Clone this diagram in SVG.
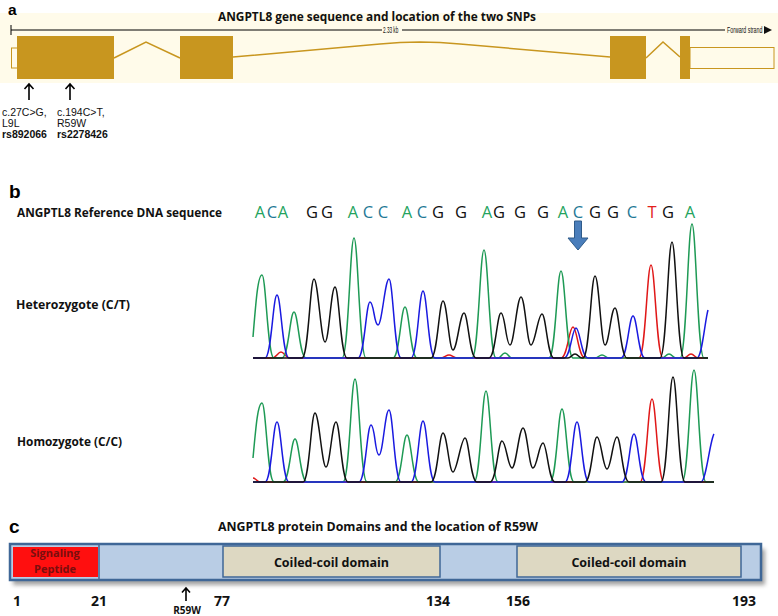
<svg xmlns="http://www.w3.org/2000/svg" width="778" height="616" viewBox="0 0 778 616">
<style>
.lbl{font-family:"Liberation Sans",Arial,sans-serif;font-weight:bold;fill:#000}
.t{font-family:"Open Sans","Liberation Sans",sans-serif;font-weight:bold;fill:#111}
.snp{font-family:"Liberation Sans",Arial,sans-serif;font-size:10.5px;fill:#111}
.seq{font-family:"Open Sans","Liberation Sans",sans-serif;font-size:16.5px;text-anchor:middle}
.A{fill:#25a35e}.C{fill:#1f7896}.G{fill:#111}.T{fill:#e3201c}
.exon{fill:#c8961f}
.intron{fill:none;stroke:#c8961f;stroke-width:1.5}
.tr{fill:none;stroke-width:1.5;stroke-linejoin:round}
.gr{stroke:#1e9a55}.bl{stroke:#1a1ae0}.bk{stroke:#111}.rd{stroke:#e01818}
.num{font-family:"Open Sans","Liberation Sans",sans-serif;font-weight:bold;font-size:14px;fill:#111}
.cc{fill:#ddd8c2;stroke:#3f6797;stroke-width:1.5}
.arr{fill:none;stroke:#000;stroke-width:1.6}
.sp{font-family:"Open Sans","Liberation Sans",sans-serif;font-weight:bold;font-size:11px;fill:#7a0e0e;text-anchor:middle}
</style>
<defs>
<filter id="sh" x="-5%" y="-30%" width="110%" height="160%"><feGaussianBlur stdDeviation="2"/></filter>
</defs>
<rect width="778" height="616" fill="#fff"/>

<!-- Panel a -->
<g id="panel-a">
<rect x="0" y="13" width="778" height="70" fill="#fffbea"/>
<text class="lbl" x="8" y="15" font-size="15.5">a</text>
<text class="t" x="218" y="21" font-size="13" textLength="318" lengthAdjust="spacingAndGlyphs">ANGPTL8 gene sequence and location of the two SNPs</text>
<line x1="11" y1="30" x2="382" y2="30" stroke="#000" stroke-width="1"/>
<line x1="402" y1="30" x2="725" y2="30" stroke="#000" stroke-width="1"/>
<line x1="11" y1="25" x2="11" y2="35" stroke="#000" stroke-width="1"/>
<text transform="translate(383,33) scale(0.55,1)" font-family="Liberation Sans,sans-serif" font-size="8.5" fill="#111">2.33 kb</text>
<text transform="translate(727,33) scale(0.62,1)" font-family="Liberation Sans,sans-serif" font-size="8.5" fill="#111">Forward strand</text>
<path d="M764,26 L772,30 L764,34 Z" fill="#111"/>
<g id="gene">
<rect x="11.5" y="48" width="6" height="20" fill="none" stroke="#c8961f" stroke-width="1"/>
<rect class="exon" x="17" y="36" width="97" height="43"/>
<polyline class="intron" points="114,58 146,42 180,58"/>
<rect class="exon" x="180" y="36" width="53" height="43"/>
<polyline class="intron" points="233,57 380,44 400,42.5 420,42 440,42.5 460,44 610,57"/>
<rect class="exon" x="610" y="36" width="36" height="43"/>
<polyline class="intron" points="646,58 663,42 680,57"/>
<rect class="exon" x="680" y="36" width="10" height="43"/>
<rect x="690" y="47.5" width="84" height="21" fill="none" stroke="#c8961f" stroke-width="1"/>
</g>
<g id="snp1">
<path class="arr" d="M29,100 L29,84 M24.5,89 L29,84 L33.5,89"/>
<text class="snp" x="2" y="116">c.27C&gt;G,</text>
<text class="snp" x="2" y="127">L9L</text>
<text class="snp" x="2" y="138" font-weight="bold" font-size="11">rs892066</text>
</g>
<g id="snp2">
<path class="arr" d="M70,100 L70,84 M65.5,89 L70,84 L74.5,89"/>
<text class="snp" x="57" y="116">c.194C&gt;T,</text>
<text class="snp" x="57" y="127">R59W</text>
<text class="snp" x="57" y="138" font-weight="bold" font-size="11">rs2278426</text>
</g>
</g>

<!-- Panel b -->
<g id="panel-b">
<text class="lbl" x="9" y="198" font-size="19">b</text>
<text class="t" x="17" y="217" font-size="12.5" textLength="205" lengthAdjust="spacingAndGlyphs">ANGPTL8 Reference DNA sequence</text>
<g id="sequence">
<text class="seq A" x="260" y="218">A</text><text class="seq C" x="272" y="218">C</text><text class="seq A" x="283" y="218">A</text>
<text class="seq G" x="312" y="218">G</text><text class="seq G" x="327" y="218">G</text>
<text class="seq A" x="353" y="218">A</text><text class="seq C" x="368" y="218">C</text><text class="seq C" x="383" y="218">C</text>
<text class="seq A" x="407" y="218">A</text><text class="seq C" x="422" y="218">C</text><text class="seq G" x="438" y="218">G</text>
<text class="seq G" x="461" y="218">G</text>
<text class="seq A" x="487" y="218">A</text><text class="seq G" x="499" y="218">G</text>
<text class="seq G" x="520" y="218">G</text>
<text class="seq G" x="543" y="218">G</text>
<text class="seq A" x="563" y="218">A</text><text class="seq C" x="578" y="218">C</text><text class="seq G" x="595" y="218">G</text>
<text class="seq G" x="613" y="218">G</text><text class="seq C" x="632" y="218">C</text><text class="seq T" x="652" y="218">T</text>
<text class="seq G" x="668" y="218">G</text><text class="seq A" x="690" y="218">A</text>
</g>
<path id="snp-arrow" d="M574.5,221 L581.5,221 L581.5,238 L588,238 L578,250 L568,238 L574.5,238 Z" fill="#4a7ebb" stroke="#2f5b8a" stroke-width="1"/>
<text class="t" x="16" y="309" font-size="13" textLength="114" lengthAdjust="spacingAndGlyphs">Heterozygote  (C/T)</text>
<text class="t" x="17" y="446" font-size="13" textLength="105" lengthAdjust="spacingAndGlyphs">Homozygote (C/C)</text>

<g id="trace-het">
<path class="tr rd" d="M253,358 L272,358 C276,358 278,352 281,352 C284,352 286,358 290,358 L440,358 C444,358 446,355 449,355 C452,355 454,358 458,358 L561,358 C567.5,358 569,327 573,327 C577,327 578.5,358 585,358 L639,358 C645.5,358 647,265 651,265 C655,265 656.5,358 663,358 L684,358 C687,358 688,354 691,354 C694,354 695,358 698,358 L708,358"/>
<path class="tr gr" d="M253,337 C256,300 258,275 262,275 C266,275 267.5,358 274,358 L282,358 C288.5,358 290,312 294,312 C298,312 299.5,358 306,358 L342,358 C348.5,358 350,238 354,238 C358,238 359.5,358 366,358 L393,358 C399.5,358 401,307 405,307 C409,307 410.5,358 417,358 L472,358 C478.5,358 480,250 484,250 C488,250 489.5,358 496,358 L498,358 C501,358 502,353 505,353 C508,353 509,358 512,358 L549,358 C555.5,358 557,271 561,271 C565,271 566.5,358 573,358 L595,358 C598,358 599,355 602,355 C605,355 606,358 609,358 L662,358 C665,358 666,354 669,354 C672,354 673,358 676,358 L680,358 C686.5,358 688,224 692,224 C696,224 697.5,358 704,358 L708,358"/>
<path class="tr bl" d="M253,358 L265,358 C271.5,358 273,295 277,295 C281,295 282.5,358 289,358 L358,358 C364.5,358 366,302 370,302 C374,302 374,325 378,325 C382,325 385,279 389,279 C393,279 394.5,358 401,358 L411,358 C417.5,358 419,291 423,291 C427,291 428.5,358 435,358 L564,358 C570.5,358 572,328 576,328 C580,328 581.5,358 588,358 L621,358 C627.5,358 629,316 633,316 C637,316 638.5,358 645,358 L697,358 C702,358 705,320 708,310"/>
<path class="tr bk" d="M253,358 L302,358 C308.5,358 310,279 314,279 C318,279 321,342 325,342 C329,342 331,287 335,287 C339,287 340.5,358 347,358 L431,358 C437.5,358 439,301 443,301 C447,301 449,350 453,350 C457,350 460,313 464,313 C468,313 469.5,358 476,358 L489,358 C495.5,358 497,313 501,313 C505,313 506,345 510,345 C514,345 517,297 521,297 C525,297 527,345 531,345 C535,345 538,314 542,314 C546,314 547.5,358 554,358 L568,358 C571,358 572,354 575,354 C578,354 579,358 582,358 L583,358 C589.5,358 591,276 595,276 C599,276 601,345 605,345 C609,345 611,308 615,308 C619,308 620.5,358 627,358 L660,358 C666.5,358 668,242 672,242 C676,242 677.5,358 684,358 L708,358"/>
</g>

<g id="trace-hom">
<path class="tr rd" d="M253,478 C256,478 257,482 260,482 L640,482 C646.5,482 648,399 652,399 C656,399 657.5,482 664,482 L714,482"/>
<path class="tr gr" d="M253,458 C256,425 258,403 262,403 C266,403 267.5,482 274,482 L283,482 C289.5,482 291,439 295,439 C299,439 300.5,482 307,482 L343,482 C349.5,482 351,379 355,379 C359,379 360.5,482 367,482 L395,482 C401.5,482 403,435 407,435 C411,435 412.5,482 419,482 L474,482 C480.5,482 482,391 486,391 C490,391 491.5,482 498,482 L550,482 C556.5,482 558,409 562,409 C566,409 567.5,482 574,482 L682,482 C688.5,482 690,370 694,370 C698,370 699.5,482 706,482 L714,482"/>
<path class="tr bl" d="M253,482 L265,482 C271.5,482 273,422 277,422 C281,422 282.5,482 289,482 L359,482 C365.5,482 367,425 371,425 C375,425 375,455 379,455 C383,455 385,410 389,410 C393,410 394.5,482 401,482 L411,482 C417.5,482 419,421 423,421 C427,421 428.5,482 435,482 L565,482 C571.5,482 573,422 577,422 C581,422 582.5,482 589,482 L622,482 C628.5,482 630,434 634,434 C638,434 639.5,482 646,482 L701,482 C706,482 710,440 714,434"/>
<path class="tr bk" d="M253,482 L303,482 C309.5,482 311,413 315,413 C319,413 322,467 326,467 C330,467 332,422 336,422 C340,422 341.5,482 348,482 L431,482 C437.5,482 439,433 443,433 C447,433 449,472 453,472 C457,472 461,438 465,438 C469,438 470.5,482 477,482 L490,482 C496.5,482 498,441 502,441 C506,441 508,468 512,468 C516,468 519,428 523,428 C527,428 529,468 533,468 C537,468 539,443 543,443 C547,443 548.5,482 555,482 L585,482 C591.5,482 593,437 597,437 C601,437 603,469 607,469 C611,469 613,437 617,437 C621,437 622.5,482 629,482 L661,482 C667.5,482 669,377 673,377 C677,377 678.5,482 685,482 L714,482"/>
</g>
</g>

<!-- Panel c -->
<g id="panel-c">
<text class="lbl" x="9" y="533" font-size="19">c</text>
<text class="t" x="218" y="531" font-size="13" textLength="320" lengthAdjust="spacingAndGlyphs">ANGPTL8 protein Domains and the location of R59W</text>
<rect x="13" y="549" width="752" height="36" fill="#555" opacity="0.55" filter="url(#sh)"/>
<g id="bar">
<rect x="10" y="544" width="751" height="36" fill="#b9cde5" stroke="#3f6797" stroke-width="2.5"/>
</g>
<g id="signal-peptide">
<rect x="13" y="547" width="85" height="30" fill="#ff0f0f"/>
<line x1="99" y1="545" x2="99" y2="579" stroke="#3f6797" stroke-width="1.5"/>
<text class="sp" x="55" y="557">Signaling</text>
<text class="sp" x="55" y="573">Peptide</text>
</g>
<g id="coiled-coil-1">
<rect class="cc" x="223" y="546" width="217" height="31"/>
<text class="t" x="331.5" y="567" font-size="12.5" text-anchor="middle">Coiled-coil domain</text>
</g>
<g id="coiled-coil-2">
<rect class="cc" x="517" y="546" width="224" height="31"/>
<text class="t" x="629" y="567" font-size="12.5" text-anchor="middle">Coiled-coil domain</text>
</g>
<text class="num" x="13" y="606">1</text>
<text class="num" x="91" y="606">21</text>
<text class="num" x="214" y="606">77</text>
<text class="num" x="426" y="606">134</text>
<text class="num" x="506" y="606">156</text>
<text class="num" x="732" y="606">193</text>
<g id="r59w">
<path class="arr" d="M186,601 L186,588 M182,592.5 L186,588 L190,592.5" stroke-width="1.4"/>
<text x="187" y="614" font-family="Open Sans,Liberation Sans,sans-serif" font-weight="bold" font-size="10" fill="#111" text-anchor="middle">R59W</text>
</g>
</g>
</svg>
